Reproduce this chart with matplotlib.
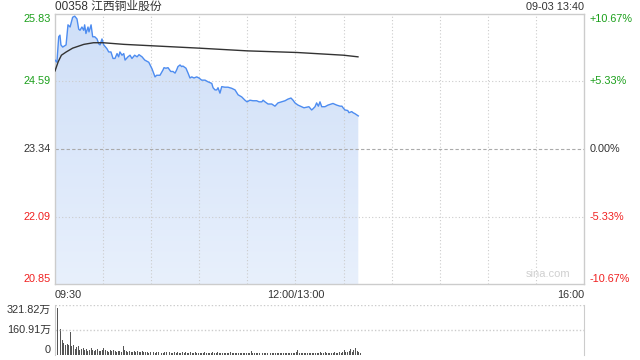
import matplotlib
matplotlib.use("Agg")
import matplotlib.pyplot as plt
import numpy as np
from matplotlib.colors import LinearSegmentedColormap

plt.rcParams["font.family"] = ["Liberation Sans", "Noto Sans CJK SC", "DejaVu Sans"]

title = "00358 江西铜业股份"
stamp = "09-03 13:40"
prev_close = 23.34
price_ticks = [25.83, 24.59, 23.34, 22.09, 20.85]
pct_labels = ["+10.67%", "+5.33%", "0.00%", "-5.33%", "-10.67%"]
time_ticks = [0, 150, 330]
time_labels = ["09:30", "12:00/13:00", "16:00"]
vol_ticks = [321.82, 160.91, 0]
vol_labels = ["321.82万", "160.91万", "0"]

# minutes after 09:30, lunch break removed (12:00 and 13:00 share 150)
price_t = [0, 1.2, 2.3, 3.1, 3.7, 4.8, 6.9, 8.1, 9.4, 11.0, 12.3, 13.7, 14.8, 15.6,
           16.8, 17.9, 18.5, 19.3, 20.6, 21.2, 22.5, 23.5, 24.8, 26.2, 27.3, 28.1,
           29.3, 30.4, 32.4, 33.5, 34.9, 36.2, 37.4, 38.7, 39.7, 40.5, 41.8, 42.9,
           43.7, 45.5, 46.8, 48.0, 49.7, 51.2, 52.4, 54.3, 56.0, 58.5, 60.5, 62.4,
           63.4, 65.5, 67.4, 68.0, 69.2, 70.5, 72.2, 73.6, 74.9, 75.9, 76.7, 78.0,
           79.0, 79.8, 81.7, 83.0, 84.2, 85.3, 86.7, 88.4, 89.8, 91.5, 93.6, 95.4,
           97.8, 98.6, 99.8, 100.9, 101.7, 102.9, 104.0, 106.0, 107.9, 110.2, 112.3,
           114.2, 116.5, 118.5, 119.8, 121.6, 123.5, 125.8, 127.3, 129.0, 129.8,
           131.0, 132.9, 135.2, 137.2, 139.1, 141.4, 143.5, 145.3, 147.2, 148.5,
           149.7, 151.6, 153.9, 155.3, 157.0, 158.4, 160.1, 160.9, 162.2, 163.2,
           164.3, 165.3, 166.4, 168.4, 170.3, 173.4, 175.7, 177.8, 179.0, 179.7,
           180.9, 182.6, 183.4, 185.1, 185.9, 187.2, 189.2]
price = [24.98, 24.94, 25.41, 25.44, 25.26, 25.22, 25.26, 25.63, 25.59, 25.77, 25.79,
         25.74, 25.55, 25.53, 25.59, 25.53, 25.63, 25.47, 25.59, 25.50, 25.63, 25.41,
         25.41, 25.37, 25.28, 25.26, 25.37, 25.26, 25.19, 25.13, 25.13, 25.01, 25.01,
         25.10, 25.04, 25.13, 25.07, 25.10, 24.98, 25.04, 25.07, 25.01, 25.07, 25.04,
         25.08, 25.04, 24.98, 24.94, 24.82, 24.67, 24.70, 24.70, 24.80, 24.84, 24.83,
         24.84, 24.77, 24.77, 24.74, 24.80, 24.86, 24.89, 24.86, 24.87, 24.83, 24.74,
         24.65, 24.67, 24.65, 24.67, 24.65, 24.61, 24.61, 24.58, 24.55, 24.47, 24.43,
         24.43, 24.47, 24.37, 24.49, 24.48, 24.48, 24.46, 24.43, 24.34, 24.30, 24.24,
         24.21, 24.24, 24.23, 24.23, 24.21, 24.21, 24.24, 24.21, 24.17, 24.17, 24.13,
         24.19, 24.21, 24.23, 24.26, 24.28, 24.24, 24.19, 24.15, 24.12, 24.10, 24.11,
         24.12, 24.06, 24.08, 24.12, 24.19, 24.13, 24.21, 24.12, 24.12, 24.15, 24.18,
         24.15, 24.13, 24.13, 24.10, 24.06, 24.05, 24.01, 24.03, 24.01, 23.99, 23.95]

avg_t = [0, 2, 4, 7, 11, 18, 24, 30, 43, 63, 90, 120, 151, 180, 189]
avg_price = [24.78, 24.95, 25.07, 25.13, 25.20, 25.27, 25.30, 25.30, 25.27, 25.24,
             25.20, 25.15, 25.12, 25.07, 25.04]

# per-minute volume, in 万 shares
volume = [321.82, 300, 129, 165, 96, 75, 64, 71, 64, 150, 58, 64, 37, 49, 58, 32, 37, 45, 30, 38,
          28, 35, 42, 30, 25, 33, 40, 28, 26, 35, 48, 30, 25, 22, 30, 27, 35, 24, 20, 28,
          26, 22, 58, 30, 24, 20, 26, 18, 22, 25, 19, 28, 21, 17, 24, 20, 18, 22, 16, 20,
          18, 21, 15, 19, 17, 22, 16, 14, 18, 20, 15, 17, 13, 16, 19, 14, 18, 15, 12, 17,
          16, 20, 14, 12, 18, 15, 13, 17, 11, 14, 16, 12, 15, 18, 13, 11, 16, 14, 22, 15,
          12, 18, 14, 13, 16, 11, 15, 12, 14, 17, 13, 10, 15, 12, 14, 11, 16, 13, 12, 15,
          14, 12, 28, 13, 11, 15, 12, 14, 10, 13, 16, 12, 11, 14, 13, 10, 15, 12, 11, 14,
          13, 11, 15, 12, 14, 10, 16, 13, 12, 15, 22, 30, 14, 12, 16, 13, 11, 15, 12, 14,
          13, 15, 12, 16, 14, 18, 13, 15, 20, 14, 12, 16, 13, 15, 18, 14, 16, 20, 15, 18,
          35, 22, 18, 25, 40, 22, 30, 45, 28, 20, 15]

GREEN = "#1a9f1a"
RED = "#f02020"
GRID = "#cccccc"
W, H = 640, 360

fig = plt.figure(figsize=(6.4, 3.6), dpi=100)
ax = fig.add_axes([55 / W, 76 / H, 529 / W, 270 / H])
ax.set_xlim(0, 330)
ax.set_ylim(price_ticks[-1], price_ticks[0])
ax.set_xticks([])
ax.set_yticks([])
for s in ax.spines.values():
    s.set_color(GRID)
    s.set_linewidth(1)

# gradient fill under the price line
poly = ax.fill_between(price_t, price, price_ticks[-1], color="none", lw=0)
cmap = LinearSegmentedColormap.from_list("fill", ["#e8f0fc", "#cfdff8"])
grad = np.linspace(0, 1, 256).reshape(-1, 1)
im = ax.imshow(grad, cmap=cmap, aspect="auto", origin="lower",
               extent=[0, 330, price_ticks[-1], price_ticks[0]], zorder=1)
im.set_clip_path(poly.get_paths()[0], transform=ax.transData)

for t in range(30, 330, 30):
    ax.axvline(t, color=GRID, lw=0.8, ls=(0, (1, 2)), zorder=2)
for p in price_ticks[1:-1]:
    if p == prev_close:
        ax.axhline(p, color="#aaaaaa", lw=0.8, ls=(0, (3, 2)), zorder=2)
    else:
        ax.axhline(p, color=GRID, lw=0.8, ls=(0, (1, 2)), zorder=2)

ax.plot(price_t, price, color="#4d8cf0", lw=1, zorder=3)
ax.plot(avg_t, avg_price, color="#333333", lw=1, zorder=3)

colors = [GREEN, GREEN, "#333333", RED, RED]
vas = ["top", "center", "center", "center", "bottom"]
for p, pl, c, va in zip(price_ticks, pct_labels, colors, vas):
    ax.annotate(f"{p:.2f}", xy=(0, p), xycoords=("axes fraction", "data"),
                xytext=(-3, 0), textcoords="offset points", ha="right", va=va,
                fontsize=7.8, color=c)
    ax.annotate(pl, xy=(1, p), xycoords=("axes fraction", "data"),
                xytext=(4, 0), textcoords="offset points", ha="left", va=va,
                fontsize=7.8, color=c)

for t, lab, ha in zip(time_ticks, time_labels, ["left", "center", "right"]):
    ax.annotate(lab, xy=(t, 0), xycoords=("data", "axes fraction"),
                xytext=(0, -4), textcoords="offset points", ha=ha, va="top",
                fontsize=7.8, color="#333333")

ax.text(0.975, 0.02, "sina.com", transform=ax.transAxes, ha="right", va="bottom",
        fontsize=8, color="#d0d0d0", zorder=4)

fig.text(55 / W, 1 - 7 / H, title, ha="left", va="center", fontsize=8.5, color="#333333")
fig.text(584 / W, 1 - 7 / H, stamp, ha="right", va="center", fontsize=7.8, color="#333333")

# volume panel
vax = fig.add_axes([55 / W, 5 / H, 529 / W, 50 / H])
vax.set_xlim(0, 330)
vax.set_ylim(0, vol_ticks[0])
vax.set_xticks([])
vax.set_yticks([])
vax.bar(np.arange(len(volume)) + 0.5, volume, width=0.6, color="#555555", lw=0)
for side in ["left", "right"]:
    vax.spines[side].set_color(GRID)
vax.spines["bottom"].set_visible(False)
vax.spines["top"].set_visible(False)
vax.axhline(vol_ticks[0], color=GRID, lw=1, ls=(0, (1, 1.5)))
vax.axhline(vol_ticks[1], color=GRID, lw=1, ls=(0, (1, 1.5)))
for v, lab, va in zip(vol_ticks, vol_labels, ["top", "center", "bottom"]):
    vax.annotate(lab, xy=(0, v), xycoords=("axes fraction", "data"),
                 xytext=(-3, 0), textcoords="offset points", ha="right", va=va,
                 fontsize=7.8, color="#333333")

fig.savefig("out.png", dpi=100)
